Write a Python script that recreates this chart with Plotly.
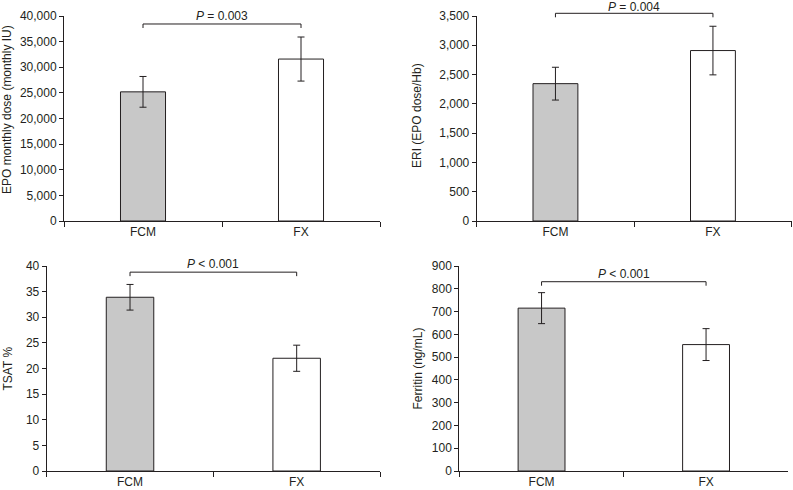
import plotly.graph_objects as go

categories = ["FCM", "FX"]

epo_mean = [25200, 31600]
epo_err = [3000, 4300]
eri_mean = [2345, 2910]
eri_err = [280, 415]
tsat_mean = [33.9, 22.0]
tsat_err = [2.5, 2.55]
ferritin_mean = [715, 555]
ferritin_err = [68, 70]

p_labels = ["<i>P</i> = 0.003", "<i>P</i> = 0.004", "<i>P</i> < 0.001", "<i>P</i> < 0.001"]
bracket_levels = [38440, 3546, 38.8, 831]
y_titles = ["EPO monthly dose (monthly IU)", "ERI (EPO dose/Hb)", "TSAT %", "Ferritin (ng/mL)"]
y_max = [40000, 3500, 40, 900]
y_dtick = [5000, 500, 5, 100]

panels = [(epo_mean, epo_err), (eri_mean, eri_err), (tsat_mean, tsat_err), (ferritin_mean, ferritin_err)]

W, H = 793, 490
# pixel boxes of plot areas: (x0, x1, ytop, ybottom)
boxes = [(64, 380, 16, 221), (476.7, 791.7, 16, 221), (46.7, 380, 266, 471), (459.3, 788.3, 266, 471)]
title_x = [7, 417, 7, 417]
title_y = [110, 115, 368.5, 368.5]
p_shift = [-1, -3, -1, -1]
bar_width = 0.285

INK = "#231f20"
TXT = "#231f20"
FONT = "Liberation Sans, Arial, sans-serif"

fig = go.Figure()
layout = dict(
    width=W, height=H, margin=dict(l=0, r=0, t=0, b=0, pad=0, autoexpand=False),
    paper_bgcolor="white", plot_bgcolor="white", showlegend=False,
    font=dict(family=FONT, size=12, color=TXT),
)
annotations = []
shapes = []

for i, ((mean, err), box) in enumerate(zip(panels, boxes)):
    n = "" if i == 0 else str(i + 1)
    xa, ya = "x" + n, "y" + n
    x0, x1, yt, yb = box
    fig.add_trace(go.Bar(
        x=categories, y=mean, xaxis=xa, yaxis=ya, width=bar_width,
        marker=dict(color=["#c8c8c8", "white"], line=dict(color=INK, width=1)),
        error_y=dict(type="data", array=err, color=INK, thickness=1, width=3.5),
        hoverinfo="skip",
    ))
    # bracket in paper coordinates derived from the data level and axis range
    d0, d1 = 1 - yb / H, 1 - yt / H
    lvl = d0 + bracket_levels[i] / y_max[i] * (d1 - d0)
    tick = 4 / H
    xl = (x0 + (x1 - x0) * 0.25) / W
    xr = (x0 + (x1 - x0) * 0.75) / W
    shapes.append(dict(
        type="path", xref="paper", yref="paper",
        path=f"M {xl} {lvl - tick} L {xl} {lvl} L {xr} {lvl} L {xr} {lvl - tick}",
        line=dict(color=INK, width=1),
    ))
    annotations.append(dict(
        x=(xl + xr) / 2, y=lvl, xref="paper", yref="paper", text=p_labels[i], showarrow=False,
        xanchor="center", yanchor="bottom", yshift=p_shift[i], font=dict(size=12, color=TXT),
    ))
    annotations.append(dict(
        x=title_x[i] / W, y=1 - title_y[i] / H, xref="paper", yref="paper",
        text=y_titles[i], textangle=-90, showarrow=False,
        xanchor="center", yanchor="middle", font=dict(size=12, color=TXT),
    ))
    layout["xaxis" + n] = dict(
        domain=[x0 / W, x1 / W], anchor=ya, type="category", range=[-0.5, 1.5],
        showline=True, linecolor=INK, linewidth=1, ticks="outside", tickson="boundaries",
        ticklen=5, tickcolor=INK, showgrid=False, zeroline=False, automargin=False,
        tickfont=dict(size=12, color=TXT),
    )
    layout["yaxis" + n] = dict(
        domain=[d0, d1], anchor=xa, range=[0, y_max[i]], automargin=False,
        dtick=y_dtick[i], tick0=0, tickformat=",", showline=True, linecolor=INK,
        linewidth=1, ticks="outside", ticklen=4, tickcolor=INK, showgrid=False,
        zeroline=False, tickfont=dict(size=12, color=TXT),
    )

layout["annotations"] = annotations
layout["shapes"] = shapes
fig.update_layout(**layout)
fig.write_html(
    "out.html",
    config={"displayModeBar": False},
    post_script="document.body.style.margin='0';document.documentElement.style.overflow='hidden';",
)
